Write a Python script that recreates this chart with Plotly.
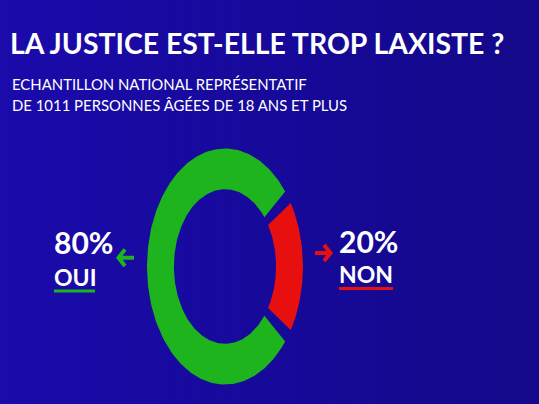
import numpy as np
import plotly.graph_objects as go

# ---- data ----
categories = ["OUI", "NON"]
values = [80, 20]
labels_pct = ["80%", "20%"]
colors = ["#1db41d", "#e8100f"]
title = "LA JUSTICE EST-ELLE TROP LAXISTE ?"
subtitle = ["ECHANTILLON NATIONAL REPRÉSENTATIF", "DE 1011 PERSONNES ÂGÉES DE 18 ANS ET PLUS"]

W, H = 539, 404
cx, cy = 225, 266.5
rx_out, ry_out = 78, 118
hole = 0.655
gap_deg = 7.0
FONT = "Lato, Roboto, sans-serif"

fig = go.Figure()

# background gradient strips
n = 40
c0 = np.array([0x1b, 0x0b, 0xab])
c1 = np.array([0x14, 0x09, 0x8a])
for i in range(n):
    t = i / (n - 1)
    c = (c0 * (1 - t) + c1 * t).astype(int)
    fig.add_shape(type="rect", xref="x", yref="y", x0=W * i / n, x1=W * (i + 1) / n + 1,
                  y0=0, y1=H, fillcolor="rgb(%d,%d,%d)" % tuple(c), line_width=0, layer="below")

# donut segments (NON centred on the right, OUI the remainder)
total = sum(values)
span_non = 360 * values[1] / total
spans = [(span_non / 2 + gap_deg / 2, 360 - span_non / 2 - gap_deg / 2),
         (-span_non / 2 + gap_deg / 2, span_non / 2 - gap_deg / 2)]
for (a0, a1), col, name in zip(spans, colors, categories):
    th = np.radians(np.linspace(a0, a1, 240))
    xo = cx + rx_out * np.cos(th)
    yo = cy - ry_out * np.sin(th)
    xi = cx + rx_out * hole * np.cos(th[::-1])
    yi = cy - ry_out * hole * np.sin(th[::-1])
    fig.add_trace(go.Scatter(x=np.concatenate([xo, xi, xo[:1]]), y=np.concatenate([yo, yi, yo[:1]]),
                             fill="toself", fillcolor=col, mode="lines", line=dict(width=0, color=col),
                             hoverinfo="skip", showlegend=False, name=name))

# titles
fig.add_annotation(x=8, y=43, xref="x", yref="y", text="<b>%s</b>" % title, showarrow=False,
                   xanchor="left", yanchor="middle", font=dict(family=FONT, size=28.4, color="white"))
for i, line in enumerate(subtitle):
    fig.add_annotation(x=10, y=84 + i * 21, xref="x", yref="y", text=line, showarrow=False,
                       xanchor="left", yanchor="middle", font=dict(family=FONT, size=14.9, color="white"))

# left label
fig.add_annotation(x=52, y=242, xref="x", yref="y", text="<b>%s</b>" % labels_pct[0], showarrow=False,
                   xanchor="left", yanchor="middle", font=dict(family=FONT, size=30, color="white"))
fig.add_annotation(x=52, y=277, xref="x", yref="y", text="<b>%s</b>" % categories[0], showarrow=False,
                   xanchor="left", yanchor="middle", font=dict(family=FONT, size=23, color="white"))
fig.add_shape(type="line", xref="x", yref="y", x0=54, x1=95, y0=291, y1=291,
              line=dict(color=colors[0], width=3))
fig.add_shape(type="path", xref="x", yref="y", path="M 125 249.5 L 118.5 257.7 L 125 266 M 118.5 257.7 L 134 257.7",
              line=dict(color=colors[0], width=4))

# right label
fig.add_annotation(x=337, y=241, xref="x", yref="y", text="<b>%s</b>" % labels_pct[1], showarrow=False,
                   xanchor="left", yanchor="middle", font=dict(family=FONT, size=30, color="white"))
fig.add_annotation(x=337, y=274, xref="x", yref="y", text="<b>%s</b>" % categories[1], showarrow=False,
                   xanchor="left", yanchor="middle", font=dict(family=FONT, size=23, color="white"))
fig.add_shape(type="line", xref="x", yref="y", x0=339, x1=393, y0=288.5, y1=288.5,
              line=dict(color=colors[1], width=3))
fig.add_shape(type="path", xref="x", yref="y", path="M 324 245 L 330.5 253 L 324 261 M 330.5 253 L 315 253",
              line=dict(color=colors[1], width=4))

fig.update_layout(
    width=W, height=H, margin=dict(l=0, r=0, t=0, b=0),
    paper_bgcolor="#170a9c", plot_bgcolor="#170a9c",
    xaxis=dict(range=[0, W], visible=False, fixedrange=True),
    yaxis=dict(range=[H, 0], visible=False, fixedrange=True),
    showlegend=False,
)
fig.write_html("out.html", config={"displayModeBar": False},
               post_script="document.body.style.margin='0';")
